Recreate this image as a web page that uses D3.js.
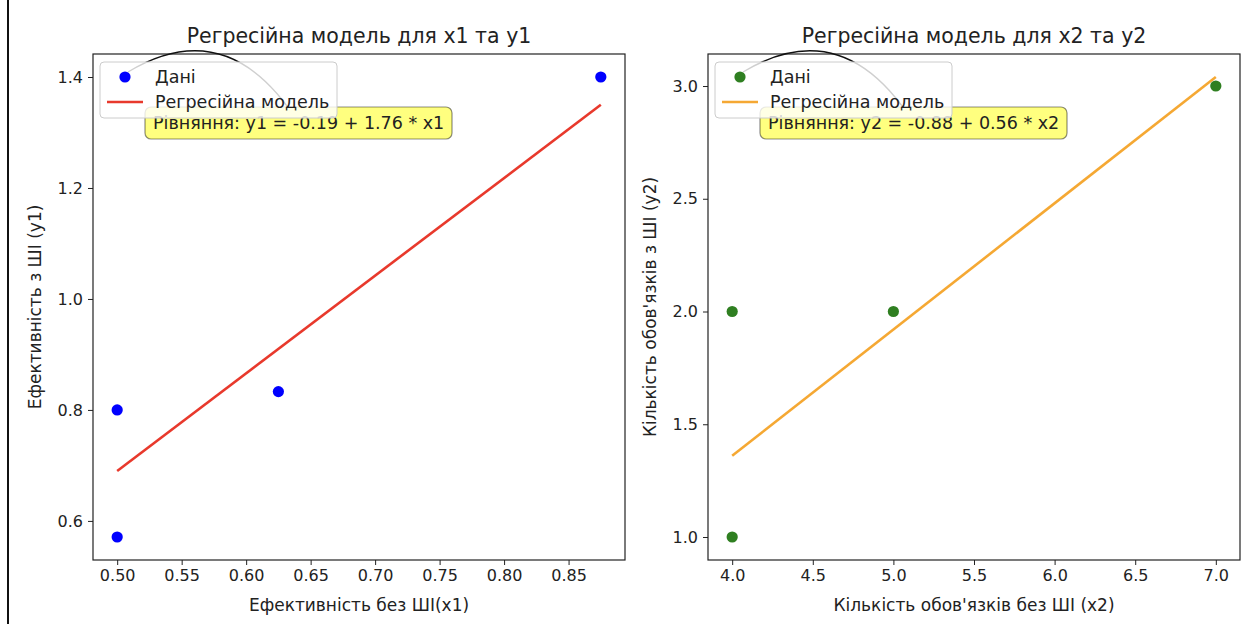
<!DOCTYPE html>
<html>
<head>
<meta charset="utf-8">
<script src="https://cdn.jsdelivr.net/npm/d3@7"></script>
<style>
    body { margin: 0; background: #fff; }
    svg { display: block; font-family: "DejaVu Sans", sans-serif; }
</style>
</head>
<body>
<div id="chart"></div>
<script>

// data
const x1 = [0.5, 0.5, 0.625, 0.875]
const y1 = [0.8, 0.571, 0.833, 1.4]
const x2 = [4, 4, 5, 7]
const y2 = [2, 1, 2, 3]

// regression coefficients [intercept, slope]
const coef1 = [-0.19, 1.76]
const coef2 = [-0.88, 0.56]

const xTicks1 = [0.50, 0.55, 0.60, 0.65, 0.70, 0.75, 0.80, 0.85]
const yTicks1 = [0.6, 0.8, 1.0, 1.2, 1.4]
const xTicks2 = [4.0, 4.5, 5.0, 5.5, 6.0, 6.5, 7.0]
const yTicks2 = [1.0, 1.5, 2.0, 2.5, 3.0]

const titles = ["Регресійна модель для x1 та y1", "Регресійна модель для x2 та y2"]
const xLabels = ["Ефективність без ШІ(x1)", "Кількість обов'язків без ШІ (x2)"]
const yLabels = ["Ефективність з ШІ (y1)", "Кількість обов'язків з ШІ (y2)"]
const equations = ["Рівняння: y1 = -0.19 + 1.76 * x1", "Рівняння: y2 = -0.88 + 0.56 * x2"]
const legendLabels = ["Дані", "Регресійна модель"]

const width = 1243
const height = 624

const svg = d3.select("#chart").append("svg")
    .attr("width", width)
    .attr("height", height)

// jupyter cell border on the left
svg.append("line")
    .attr("x1", 8).attr("x2", 8)
    .attr("y1", 0).attr("y2", height)
    .attr("stroke", "#111")
    .attr("stroke-width", 2)

const mask = svg.append("defs")

// pad an extent by 5% on both sides like matplotlib does
function padded(values) {
    const [lo, hi] = d3.extent(values)
    const m = (hi - lo) * 0.05
    return [lo - m, hi + m]
}

function drawPanel(i, box, xs, ys, coef, xTicks, yTicks, dotColor, lineColor, fmtX, fmtY) {

    const g = svg.append("g")

    const xMin = d3.min(xs), xMax = d3.max(xs)
    const fitted = [xMin, xMax].map(x => [x, coef[0] + coef[1] * x])

    const x = d3.scaleLinear()
        .domain(padded(xs))
        .range([box.left, box.right])

    const y = d3.scaleLinear()
        .domain(padded(ys.concat(fitted.map(d => d[1]))))
        .range([box.bottom, box.top])

    const xAxis = g.append("g")
        .attr("transform", `translate(0,${box.bottom})`)
        .call(d3.axisBottom(x).tickValues(xTicks).tickFormat(fmtX).tickSize(5).tickPadding(5))

    const yAxis = g.append("g")
        .attr("transform", `translate(${box.left},0)`)
        .call(d3.axisLeft(y).tickValues(yTicks).tickFormat(fmtY).tickSize(5).tickPadding(5))

    for (const ax of [xAxis, yAxis]) {
        ax.select(".domain").remove()
        ax.selectAll("line").attr("stroke", "#222")
        ax.selectAll("text")
            .attr("fill", "#222")
            .attr("font-size", 16)
            .attr("font-family", "DejaVu Sans")
    }

    g.append("rect")
        .attr("x", box.left)
        .attr("y", box.top)
        .attr("width", box.right - box.left)
        .attr("height", box.bottom - box.top)
        .attr("fill", "none")
        .attr("stroke", "#222")
        .attr("stroke-width", 1.2)

    // regression line
    g.append("path")
        .datum(fitted)
        .attr("d", d3.line().x(d => x(d[0])).y(d => y(d[1])))
        .attr("fill", "none")
        .attr("stroke", lineColor)
        .attr("stroke-width", 2.6)

    g.append("g")
        .selectAll("circle")
        .data(xs.map((d, k) => [d, ys[k]]))
        .join("circle")
            .attr("cx", d => x(d[0]))
            .attr("cy", d => y(d[1]))
            .attr("r", 5.6)
            .attr("fill", dotColor)

    // titles and axis labels
    const cx = (box.left + box.right) / 2
    const cy = (box.top + box.bottom) / 2

    g.append("text")
        .attr("x", cx)
        .attr("y", box.top - 11)
        .attr("text-anchor", "middle")
        .attr("font-size", 20.5)
        .attr("fill", "#222")
        .text(titles[i])

    g.append("text")
        .attr("x", cx)
        .attr("y", box.bottom + 51)
        .attr("text-anchor", "middle")
        .attr("font-size", 17)
        .attr("fill", "#222")
        .text(xLabels[i])

    g.append("text")
        .attr("transform", `translate(${box.left - 52},${cy}) rotate(-90)`)
        .attr("text-anchor", "middle")
        .attr("font-size", 17)
        .attr("fill", "#222")
        .text(yLabels[i])

    // equation annotation with curved connector
    const eq = {x: box.left + 52, y: box.top + 53, w: 307, h: 32}
    const maskId = "cut" + i

    const m = mask.append("mask").attr("id", maskId)
    m.append("rect").attr("x", 0).attr("y", 0).attr("width", width).attr("height", height).attr("fill", "white")
    m.append("rect").attr("x", eq.x).attr("y", eq.y).attr("width", eq.w).attr("height", eq.h).attr("fill", "black")

    const p0 = [box.left + 205, box.top + 68]
    const p2 = [box.left + 35, box.top + 18]
    const c = [box.left + 135, box.top - 42]
    g.append("path")
        .attr("d", `M${p0[0]},${p0[1]} Q${c[0]},${c[1]} ${p2[0]},${p2[1]}`)
        .attr("fill", "none")
        .attr("stroke", "#111")
        .attr("stroke-width", 1.4)
        .attr("mask", `url(#${maskId})`)

    g.append("rect")
        .attr("x", eq.x)
        .attr("y", eq.y)
        .attr("width", eq.w)
        .attr("height", eq.h)
        .attr("rx", 6)
        .attr("fill", "#ffff00")
        .attr("fill-opacity", 0.5)
        .attr("stroke", "#000")
        .attr("stroke-opacity", 0.45)
        .attr("stroke-width", 1.2)

    g.append("text")
        .attr("x", eq.x + 8)
        .attr("y", eq.y + eq.h / 2)
        .attr("dy", "0.35em")
        .attr("font-size", 17.5)
        .attr("fill", "#222")
        .text(equations[i])

    // legend
    const lg = g.append("g")
        .attr("transform", `translate(${box.left + 7},${box.top + 8})`)

    lg.append("rect")
        .attr("width", 237)
        .attr("height", 56)
        .attr("rx", 4)
        .attr("fill", "#fff")
        .attr("fill-opacity", 0.8)
        .attr("stroke", "#ccc")

    lg.append("circle")
        .attr("cx", 25)
        .attr("cy", 15)
        .attr("r", 5.6)
        .attr("fill", dotColor)

    lg.append("line")
        .attr("x1", 7).attr("x2", 43)
        .attr("y1", 40).attr("y2", 40)
        .attr("stroke", lineColor)
        .attr("stroke-width", 2.6)

    lg.selectAll("text")
        .data(legendLabels)
        .join("text")
            .attr("x", 55)
            .attr("y", (d, k) => 15 + k * 25)
            .attr("dy", "0.35em")
            .attr("font-size", 17.5)
            .attr("fill", "#222")
            .text(d => d)
}

const fmt2 = d3.format(".2f")
const fmt1 = d3.format(".1f")

drawPanel(0, {left: 93, right: 625, top: 54, bottom: 560}, x1, y1, coef1,
    xTicks1, yTicks1, "#0000ff", "#e8392c", fmt2, fmt1)

drawPanel(1, {left: 708, right: 1240, top: 54, bottom: 560}, x2, y2, coef2,
    xTicks2, yTicks2, "#2f7f21", "#f5a833", fmt1, fmt1)

</script>
</body>
</html>
